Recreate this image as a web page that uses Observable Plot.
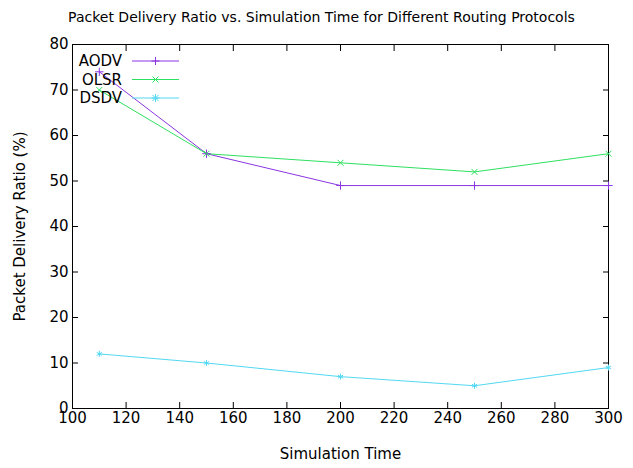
<!DOCTYPE html>
<html><head>
<script src="https://cdn.jsdelivr.net/npm/d3@7"></script>
<script src="https://cdn.jsdelivr.net/npm/@observablehq/plot@0.6"></script>
<style>body{margin:0;background:#fff;font-family:"DejaVu Sans",sans-serif}
#t{height:28px;line-height:34px;text-align:center;font-size:14px;padding-left:10px}</style>
</head><body>
<div id="t">Packet Delivery Ratio vs. Simulation Time for Different Routing Protocols</div>
<div id="c"></div>
<script>
const times=[110,150,200,250,300];
const protocols=["AODV","OLSR","DSDV"];
const aodv=[74,56,49,49,49];
const olsr=[70,56,54,52,56];
const dsdv=[12,10,7,5,9];
const colors=["#8a35e0","#2fe060","#52d8f2"];
const symbols=["plus","times","asterisk"];
const xTicks=d3.range(100,301,20), yTicks=d3.range(0,81,10);
const series=[aodv,olsr,dsdv];
const data=protocols.flatMap((p,i)=>times.map((t,j)=>({p,t,v:series[i][j]})));
const chart=Plot.plot({
  width:633,height:440,marginTop:16,marginLeft:72,marginRight:25,marginBottom:60,
  style:{fontSize:"15px",fontFamily:"DejaVu Sans, sans-serif",color:"#000"},
  x:{domain:[100,300]},y:{domain:[0,80]},
  color:{domain:protocols,range:colors},symbol:{domain:protocols,range:symbols},
  marks:[
    Plot.frame({stroke:"#000"}),
    Plot.axisX({ticks:xTicks,tickSize:-6,tickPadding:10,label:"Simulation Time",labelAnchor:"center",labelArrow:"none",labelOffset:50,fontSize:15}),
    Plot.axisX({anchor:"top",ticks:xTicks,tickSize:-6,tickFormat:()=>"",label:null}),
    Plot.axisY({ticks:yTicks,tickSize:-6,tickPadding:10,label:"Packet Delivery Ratio (%)",labelAnchor:"center",labelArrow:"none",labelOffset:58,fontSize:15}),
    Plot.axisY({anchor:"right",ticks:yTicks,tickSize:-6,tickFormat:()=>"",label:null}),
    Plot.line(data,{x:"t",y:"v",z:"p",stroke:"p",strokeWidth:1}),
    Plot.dot(data,{x:"t",y:"v",stroke:"p",symbol:"p",r:2.8,strokeWidth:1})
  ]
});
const svg=d3.select(chart);
const shapeD={plus:"M-4,0H4M0,-4V4",times:"M-3,-3L3,3M-3,3L3,-3",asterisk:"M-4,0H4M0,-4V4M-3,-3L3,3M-3,3L3,-3"};
protocols.forEach((p,i)=>{
  const y=61+i*18.5-28;
  const g=svg.append("g").attr("class","lg");
  g.append("text").attr("x",122).attr("y",y+5).attr("text-anchor","end").attr("font-size",15).attr("font-family","DejaVu Sans, sans-serif").text(p);
  g.append("line").attr("x1",132).attr("x2",179).attr("y1",y).attr("y2",y).attr("stroke",colors[i]);
  g.append("path").attr("transform",`translate(155.5,${y})`).attr("d",shapeD[symbols[i]]).attr("fill","none").attr("stroke",colors[i]);
});
document.getElementById("c").appendChild(chart);
</script>
</body></html>
